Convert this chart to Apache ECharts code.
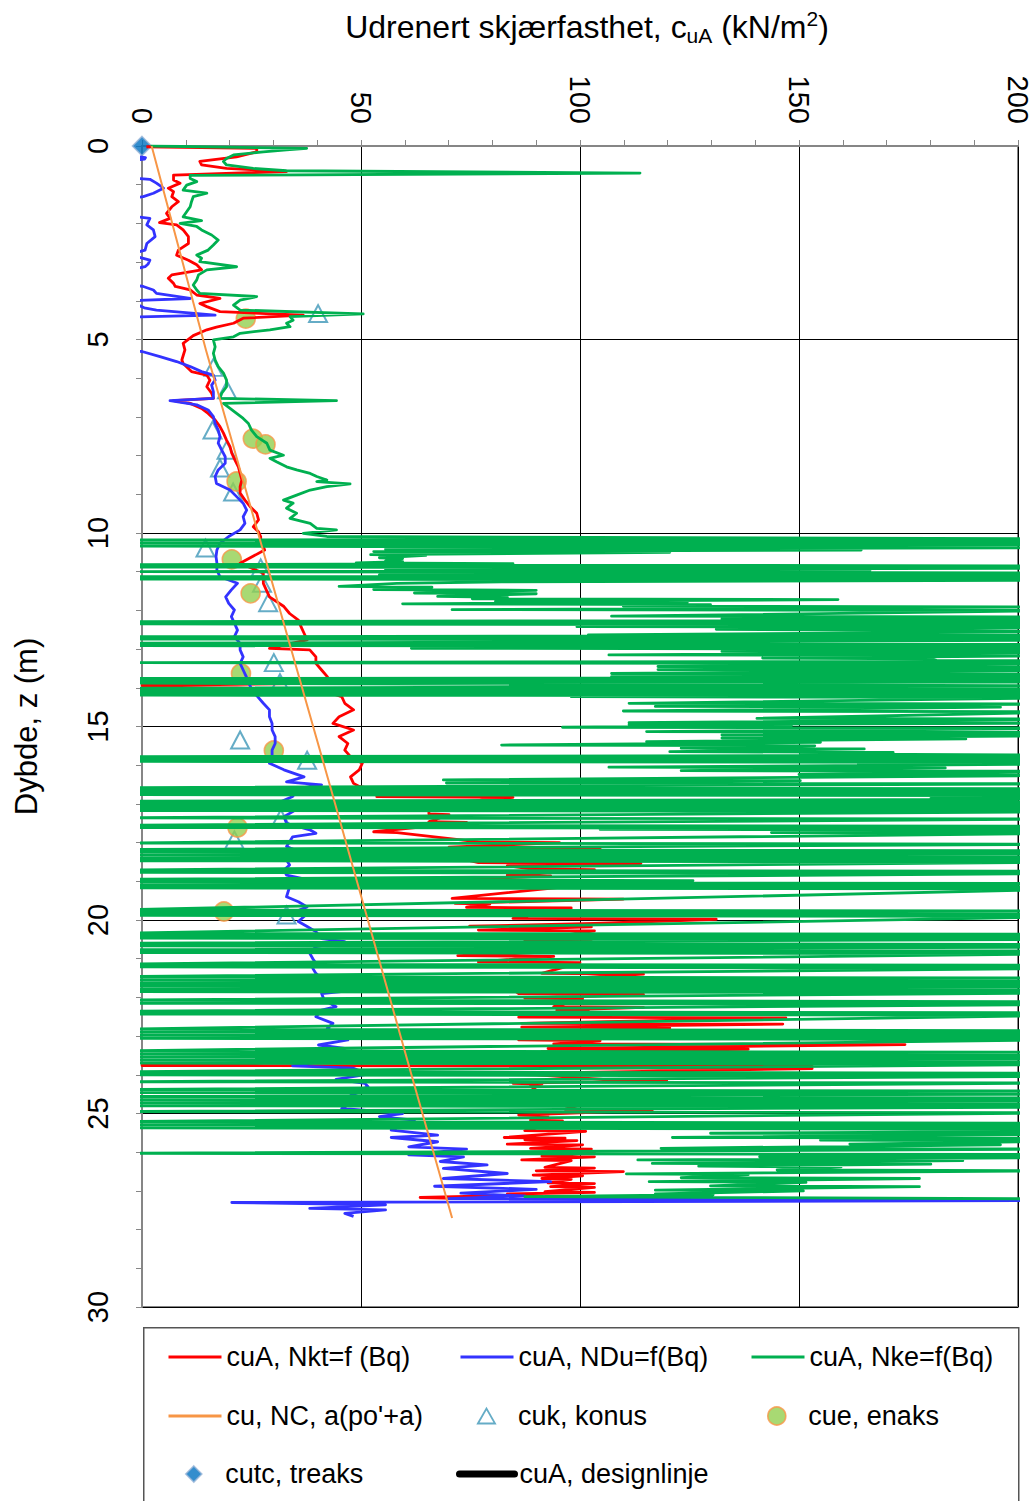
<!DOCTYPE html>
<html>
<head>
<meta charset="utf-8">
<script src="https://cdn.jsdelivr.net/npm/echarts@6/dist/echarts.min.js"></script>
<style>
  html, body { margin: 0; padding: 0; background: #fff; }
  #chart { width: 1034px; height: 1501px; }
</style>
</head>
<body>
<div id="chart"></div>
<script>
// every point is [cu (kN/m2), depth z (m)]; -5 / 215 = trace runs off the left / right edge
const nkt = [
  [1,0.02],[26.2,0.06],[26.2,0.15],[21.6,0.28],[13.2,0.4],[13.6,0.49],[19.3,0.58],[33,0.66],[7.2,0.75],[7.2,0.88],
  [8.7,0.96],[6,1.09],[7.2,1.18],[6.8,1.31],[8.3,1.44],[6.8,1.57],[5.6,1.74],[6.4,1.87],[4,1.98],[7.9,2.04],
  [9.4,2.17],[10.6,2.34],[10.6,2.52],[8.3,2.69],[7.9,2.82],[10.6,2.95],[12.5,3.07],[13.6,3.2],[6.8,3.33],[6,3.42],
  [7.2,3.55],[7.6,3.63],[11,3.72],[12.5,3.85],[17.8,3.94],[13.2,4.07],[14.8,4.15],[17.8,4.28],[36.8,4.37],[23.1,4.45],
  [20.9,4.58],[17,4.68],[14.8,4.75],[11.7,4.9],[9.4,5.1],[9.8,5.27],[9.1,5.53],[9.4,5.62],[11.3,5.83],[14.8,5.92],
  [15.5,6.05],[14.8,6.22],[15.9,6.39],[16.3,6.52],[7.2,6.58],[11,6.65],[13.6,6.78],[15.1,6.91],[16.7,7.08],[17.8,7.25],
  [18.6,7.42],[19.3,7.6],[20.1,7.77],[20.5,7.94],[21.2,8.11],[22,8.29],[22.4,8.46],[22.8,8.63],[22.4,8.8],[22.4,8.97],
  [23.5,9.15],[24.7,9.32],[26.2,9.49],[26.6,9.66],[25.4,9.84],[26.6,9.97],[27.1,10.1],[27.1,10.18],[28,10.44],[22.4,10.78],
  [27.7,11.04],[27.7,11.3],[29.1,11.65],[32.4,11.9],[33.7,12.08],[35.7,12.25],[36.3,12.42],[37,12.59],[37.7,12.76],[29.1,12.98],
  [38.3,13.02],[39.7,13.2],[39.7,13.37],[41,13.54],[42.3,13.71],[43,13.88],[0,13.94],[41,14.06],[45.6,14.23],[46.3,14.4],
  [48.3,14.57],[45,14.75],[43.6,14.92],[48.3,15.09],[45,15.26],[47,15.44],[46.3,15.61],[47.6,15.78],[50.3,15.95],[49.6,16.12],
  [47.6,16.3],[48.3,16.47],[49.6,16.55],[59,16.75],[53.6,16.81],[84.7,16.83],[60.9,17.07],[65.5,17.09],[65.5,17.26],[70.1,17.28],
  [65.5,17.46],[74.1,17.48],[52.9,17.72],[58.2,17.74],[76.8,17.98],[95.3,18],[70.1,18.12],[104.6,18.14],[56.2,18.32],[70.1,18.34],
  [76.8,18.52],[113.9,18.54],[83.4,18.6],[88.7,18.68],[103.3,18.7],[83.4,18.84],[93.3,18.86],[69.5,18.97],[109.9,18.99],[70.8,19.44],
  [109.9,19.46],[71.5,19.57],[79.4,19.59],[74.1,19.67],[98,19.69],[84.7,19.96],[131.1,19.98],[103.3,20.09],[74.8,20.16],[102.6,20.18],
  [76.8,20.26],[103.3,20.28],[87.4,20.54],[102.6,20.56],[100,20.69],[119.2,20.71],[72.1,20.92],[94,20.94],[76.8,21.08],[100,21.1],
  [91.3,21.38],[114.5,21.4],[88.7,21.57],[131.7,21.59],[68.8,21.77],[84.7,21.79],[86,21.9],[114.5,21.92],[87.4,22.02],[100.6,22.04],
  [94,22.24],[114.5,22.26],[94.7,22.33],[101.9,22.35],[86,22.51],[147,22.53],[86.7,22.67],[146.3,22.69],[86.7,22.77],[120.5,22.79],
  [98,22.94],[132.4,22.96],[86,23.1],[104.6,23.12],[94,23.2],[174.2,23.22],[92.7,23.32],[138.4,23.34],[91.3,23.4],[124.5,23.42],
  [0,23.76],[153,23.78],[96,23.82],[153,23.84],[76.8,23.98],[90,24],[105.3,24.12],[119.8,24.14],[84.7,24.22],[91.3,24.24],
  [88.7,24.29],[91.3,24.5],[101.9,24.52],[83.4,24.65],[103.3,24.67],[96.6,24.89],[116.5,24.91],[86,25.04],[92.7,25.06],[88.7,25.17],
  [96,25.19],[87.4,25.44],[101.3,25.46],[82.7,25.62],[96.6,25.64],[87.4,25.68],[99.3,25.7],[83.4,25.79],[100.6,25.81],[88.7,25.9],
  [102.6,25.92],[92.7,25.99],[103.3,26.01],[91.3,26.1],[103.3,26.12],[86.7,26.2],[98,26.22],[92,26.39],[103.3,26.41],[90,26.48],
  [109.9,26.5],[89.3,26.59],[100.6,26.61],[91.3,26.68],[98,26.7],[92.7,26.79],[103.3,26.81],[93.3,26.89],[103.3,26.91],[92,27.02],
  [103.3,27.04],[83.4,27.08],[91.3,27.1],[63.5,27.17],[71.5,27.19]
];

const ndu = [
  [-3,0.25],[0.8,0.3],[0.6,0.34],[-3,0.38],[-3,0.82],[1.8,0.86],[3.3,0.96],[4.9,1.09],[2.6,1.22],[0.3,1.31],
  [-3,1.35],[-3,1.8],[1.8,1.87],[1.1,2.04],[2.6,2.17],[3,2.34],[1.1,2.52],[0.7,2.69],[-3,2.8],[1.8,2.95],
  [1.4,3.05],[0.7,3.12],[-3,3.2],[-3,3.58],[0.3,3.63],[2.6,3.72],[3.3,3.81],[11,3.94],[-3,4],[0.5,4.18],
  [3.3,4.24],[16.7,4.37],[-3,4.42],[-3,5.28],[0,5.31],[4.1,5.44],[7.9,5.57],[11,5.7],[13.6,5.83],[16.3,5.92],
  [16.7,6.05],[15.9,6.18],[16.3,6.35],[16.3,6.52],[6.4,6.58],[12.5,6.69],[15.1,6.82],[16.3,6.99],[16.7,7.17],[17.4,7.34],
  [17.8,7.51],[17.4,7.68],[18.2,7.86],[19,8.03],[19,8.2],[17.4,8.37],[16.7,8.54],[17,8.72],[20.1,8.89],[21.6,9.06],
  [23.1,9.23],[23.9,9.41],[23.1,9.58],[23.5,9.75],[22.4,9.92],[19.8,10.09],[17.8,10.27],[17.1,10.44],[16.9,10.61],[17.1,10.78],
  [17.1,10.96],[17.8,11.13],[21.8,11.3],[20.4,11.47],[19.1,11.65],[19.8,11.82],[21.1,11.99],[20.4,12.16],[21.1,12.33],[21.8,12.51],
  [21.1,12.68],[22.4,12.85],[22.4,13.02],[23.1,13.2],[22.4,13.37],[23.1,13.54],[23.8,13.71],[24.4,13.88],[25.1,14.06],[26.4,14.23],
  [27.7,14.4],[29.1,14.57],[29.1,14.75],[29.7,14.92],[29.7,15.09],[30.4,15.26],[30.4,15.44],[29.7,15.61],[29.7,15.78],[29.1,15.95],
  [32.4,16.12],[37,16.3],[33,16.43],[41,16.51],[35.7,16.6],[34.4,16.81],[31,16.98],[35,17.16],[32.4,17.33],[33,17.5],
  [38.3,17.67],[39.7,17.76],[34.4,17.85],[33.7,17.98],[33,18.1],[37,18.28],[42.3,18.32],[33,18.45],[33.7,18.58],[32.4,18.71],
  [33,18.84],[38.3,18.97],[33.7,19.14],[33,19.4],[35.7,19.53],[37.7,19.66],[35,19.79],[37,19.91],[35.7,20.04],[37.7,20.17],
  [39.7,20.3],[41,20.48],[46.3,20.56],[39.7,20.69],[38.3,20.86],[39,21],[39.7,21.12],[39,21.25],[39.7,21.38],[41,21.51],
  [44.3,21.64],[51.6,21.78],[41,21.9],[41.6,22.07],[44.3,22.24],[41,22.33],[39.7,22.5],[43.6,22.67],[42.3,22.8],[44.3,22.93],
  [47,23.1],[40.3,23.23],[46.3,23.32],[42.3,23.45],[43,23.63],[34.4,23.77],[48.3,23.83],[51.6,23.98],[44.3,24.12],[50.9,24.22],
  [51.6,24.31],[47.6,24.48],[50.3,24.61],[47.6,24.74],[45.6,24.87],[59.5,25],[54.2,25.08],[62.2,25.17],[56.9,25.43],[67.5,25.56],
  [56.9,25.62],[67.5,25.73],[60.9,25.86],[74.1,25.92],[60.9,26.07],[73.4,26.12],[68.1,26.24],[78.8,26.33],[68.8,26.42],[83.4,26.55],
  [68.8,26.68],[93.3,26.76],[66.8,26.88],[90,26.96],[72.8,27.06],[87.4,27.13],[70,27.2],[205,27.25],[20.5,27.3],[55.6,27.36],
  [38.3,27.45],[55.6,27.49],[46.3,27.58],[48.3,27.66]
];

const nke = [
  [2,0],[37.6,0.06],[33,0.1],[27.7,0.15],[20.9,0.23],[19.3,0.32],[18.6,0.4],[19.3,0.49],[25.4,0.58],[33,0.64],
  [113.7,0.7],[11,0.76],[11,0.84],[12.5,0.92],[10.2,1.01],[9.4,1.14],[14.8,1.22],[11.7,1.31],[11.3,1.44],[11,1.57],
  [10.2,1.7],[9.4,1.83],[13.6,1.93],[8.7,2],[12.5,2.08],[13.6,2.17],[15.9,2.3],[17.4,2.43],[16.3,2.56],[15.1,2.69],
  [12.5,2.82],[13.6,2.9],[13.2,2.99],[21.6,3.12],[14.8,3.2],[12.9,3.33],[12.5,3.46],[11.7,3.59],[12.5,3.72],[13.2,3.81],
  [26.2,3.89],[22.4,3.98],[20.9,4.11],[22.4,4.24],[50.5,4.34],[33.8,4.41],[34.5,4.5],[33,4.58],[33.8,4.67],[29.2,4.75],
  [22.4,4.84],[20.9,4.93],[16.3,5.01],[16.7,5.19],[16.3,5.36],[16.7,5.53],[17.4,5.7],[18.6,5.87],[19.3,6.05],[19.3,6.22],
  [18.2,6.39],[17.8,6.52],[44.4,6.58],[18.6,6.65],[20.1,6.78],[21.6,6.91],[23.1,7.04],[24.3,7.17],[25,7.34],[26.2,7.51],
  [28.5,7.68],[29.2,7.86],[32.3,7.99],[29.2,8.07],[30.7,8.16],[33,8.29],[35.3,8.37],[38.4,8.46],[39.9,8.54],[42.2,8.63],
  [39.9,8.67],[47.5,8.73],[42.2,8.8],[38.4,8.89],[35.3,9.02],[32.3,9.15],[34.5,9.23],[33,9.36],[35.3,9.49],[33.8,9.62],
  [38.4,9.75],[39.9,9.88],[44.4,9.92],[36.8,10.01],[42.2,10.09],
  [215,10.15],[-5,10.18],[215,10.22],[-5,10.26],[215,10.3],[-5,10.34],[215,10.38],
  [55.6,10.42],[164.2,10.44],[52.9,10.48],[120.5,10.5],[52.2,10.56],[64.8,10.58],[54.2,10.64],[59.5,10.66],[55.6,10.72],[59.5,10.74],
  [48.9,10.77],[84.7,10.79],[-5,10.82],[215,10.85],[-5,10.88],[215,10.91],[55.6,10.95],[166.2,10.97],[-5,11],[215,11.03],
  [54.2,11.08],[215,11.1],[-5,11.13],[215,11.16],[-5,11.19],[215,11.22],[82.1,11.26],[58.2,11.3],[45,11.38],[66.2,11.4],
  [52.9,11.46],[90,11.48],[62.2,11.55],[90,11.57],[67.5,11.64],[83.4,11.66],[75.4,11.7],[158.9,11.72],[80.7,11.77],[124.5,11.79],
  [59.5,11.83],[129.8,11.85],[109.9,11.89],[215,11.91],[70.8,11.98],[215,12],[107.2,12.15],[215,12.17],[132.4,12.22],[215,12.25],
  [-5,12.29],[215,12.32],[-5,12.35],[215,12.38],[99.3,12.42],[215,12.44],[131.1,12.49],[159.6,12.51],[215,12.55],[101.9,12.63],
  [215,12.65],[-5,12.68],[215,12.71],[-5,12.74],[215,12.77],[-5,12.85],[215,12.88],[-5,12.91],[215,12.93],[61.5,12.98],
  [215,13],[132.4,13.06],[215,13.08],[106.6,13.15],[215,13.17],[141.7,13.23],[180.1,13.25],[181.4,13.29],[215,13.31],[-5,13.35],
  [215,13.38],[117.8,13.45],[215,13.47],[117.8,13.53],[215,13.55],[107.2,13.63],[215,13.65],[107.2,13.71],[215,13.73],[-5,13.76],
  [215,13.79],[-5,13.82],[215,13.85],[-5,13.88],[215,13.95],[-5,14.01],[215,14.04],[-5,14.07],[215,14.1],[-5,14.13],
  [215,14.16],[-5,14.19],[215,14.21],[98,14.23],[215,14.25],[111.2,14.4],[215,14.42],[117.2,14.48],[196,14.5],[109.9,14.6],
  [215,14.62],[140.4,14.79],[215,14.81],[111.2,14.9],[215,14.91],[111.2,14.95],[148.3,14.97],[96,15.02],[215,15.04],[115.2,15.13],
  [215,15.15],[132.4,15.22],[215,15.24],[132.4,15.3],[188.1,15.32],[115.2,15.39],[154.9,15.41],[82.1,15.48],[153.6,15.5],[123.1,15.56],
  [164.9,15.58],[120.5,15.65],[171.5,15.67],[150.3,15.71],[215,15.74],[-5,15.78],[215,15.81],[-5,15.84],[215,15.87],[-5,15.9],
  [215,15.93],[163.5,15.95],[215,15.97],[106.6,16.05],[183.4,16.07],[123.1,16.14],[215,16.16],[150,16.24],[215,16.26],[68.8,16.38],
  [150.3,16.4],[69.5,16.46],[215,16.48],[-5,16.58],[215,16.61],[-5,16.64],[215,16.67],[-5,16.7],[215,16.73],[-5,16.76],
  [215,16.79],[180.1,16.86],[215,16.88],[-5,16.93],[215,16.96],[-5,16.99],[215,17.02],[-5,17.05],[215,17.08],[-5,17.11],
  [215,17.14],[-5,17.17],[215,17.2],[-5,17.36],[215,17.39],[-5,17.55],[215,17.58],[-5,17.61],[215,17.63],[104.6,17.66],
  [215,17.68],[143.7,17.74],[215,17.76],[-5,18.01],[215,18.04],[-5,18.18],[215,18.21],[-5,18.25],[215,18.29],[-5,18.33],
  [215,18.37],[-5,18.41],[215,18.44],[-5,18.47],[215,18.5],[-5,18.71],[215,18.74],[-5,18.77],[215,18.8],[-5,18.95],
  [125.8,18.98],[-5,19.02],[215,19.06],[-5,19.1],[215,19.14],[-5,19.17],[215,19.2],[-5,19.74],[215,19.77],[-5,19.81],
  [215,19.85],[-5,19.88],[215,19.91],[-5,20.34],[215,20.37],[-5,20.41],[215,20.44],[-5,20.47],[215,20.5],[-5,20.6],
  [215,20.63],[-5,20.67],[215,20.7],[-5,20.77],[215,20.8],[-5,20.84],[215,20.87],[-5,21.14],[215,21.17],[-5,21.21],
  [215,21.25],[-5,21.46],[215,21.5],[-5,21.54],[215,21.58],[-5,21.62],[215,21.66],[-5,21.7],[215,21.74],[-5,21.78],
  [215,21.82],[-5,21.85],[215,21.88],[-5,22.07],[215,22.11],[-5,22.15],[215,22.18],[-5,22.36],[215,22.4],[-5,22.43],
  [215,22.46],[-5,22.82],[215,22.86],[-5,22.9],[215,22.94],[-5,22.98],[215,23.02],[-5,23.06],[215,23.09],[-5,23.38],
  [215,23.42],[-5,23.46],[215,23.5],[-5,23.54],[215,23.58],[-5,23.62],[215,23.66],[-5,23.7],[215,23.73],[-5,23.92],
  [215,23.96],[-5,24],[215,24.04],[-5,24.18],[215,24.21],[-5,24.38],[215,24.42],[-5,24.46],[215,24.5],[-5,24.56],
  [215,24.6],[-5,24.64],[215,24.68],[-5,24.72],[215,24.76],[-5,24.8],[215,24.83],[-5,24.95],[215,24.98],[-5,25.21],
  [215,25.25],[-5,25.29],[215,25.33],[-5,25.37],[215,25.41],[180.8,25.44],[215,25.46],[129.8,25.51],[215,25.53],[121.1,25.62],
  [215,25.64],[154.9,25.69],[215,25.71],[161.6,25.79],[196,25.81],[118.5,25.9],[215,25.92],[-5,26.03],[215,26.06],[141,26.12],
  [215,26.14],[113.2,26.2],[187.4,26.22],[116.5,26.29],[180.1,26.31],[127.1,26.36],[159.6,26.38],[145,26.46],[215,26.48],[110.6,26.56],
  [138.4,26.58],[123.1,26.66],[177.5,26.68],[115.8,26.76],[151.6,26.78],[129.8,26.87],[177.5,26.89],[117.2,26.98],[151,27],[117.2,27.08],
  [130.4,27.1],[87.4,27.15],[215,27.21]
];

const ncLine = [[2.2,0],[14.6,5.27],[26.5,10],[43.2,16.64],[61,23.79],[70.8,27.7]];

const konus = [
  [40.2,4.33],[16.3,5.72],[19.4,6.3],[16.1,7.34],[19.3,7.86],[17.8,8.32],[20.8,8.94],[14.5,10.39],[27.1,10.9],
  [27.4,11.3],[28.8,11.8],[30.1,13.35],[31.5,13.87],[22.4,15.35],[37.7,15.87],[31.7,17.37],[21.1,17.93],[33,19.87]
];

const enaks = [
  [23.7,4.46],[25.3,7.56],[28.2,7.71],[21.6,8.67],[20.5,10.68],[24.8,11.56],[22.6,13.63],[30.1,15.62],[21.8,17.61],[18.7,19.78]
];

const treaks = [[0,0]];

const FONT = '"Liberation Sans", Arial, sans-serif';
const AXIS_GREY = '#868686';
const KONUS = '#3f97b8';
const NO_DOT = { color: 'rgba(0,0,0,0)', borderColor: 'rgba(0,0,0,0)', borderWidth: 0 };

const chart = echarts.init(document.getElementById('chart'), null, { renderer: 'svg' });

function curve(name, data, color, width) {
  return {
    name, type: 'line', data,
    symbol: 'none', showSymbol: false, clip: true,
    lineStyle: { color, width, join: 'round' },
    itemStyle: { color },
    emphasis: { disabled: true }
  };
}

// one legend per entry so the three columns line up like the original
function legendEntry(item, left, rowMid, extra) {
  return Object.assign({
    data: [item], left, top: rowMid - 16, padding: 0,
    itemWidth: 53, itemHeight: 14, selectedMode: false, z: 10,
    lineStyle: { width: 3 },
    itemStyle: NO_DOT,
    textStyle: { fontFamily: FONT, fontSize: 27, color: '#000', lineHeight: 32 }
  }, extra || {});
}

const col = [167, 459, 750];
const row = [1357, 1416, 1474];

const option = {
  animation: false,
  backgroundColor: '#fff',
  grid: {
    left: 142, top: 146, right: 16, bottom: 194,
    show: true, borderColor: AXIS_GREY, borderWidth: 2,
    outerBoundsMode: 'none'
  },
  xAxis: {
    type: 'value', position: 'top', min: 0, max: 200, interval: 50,
    name: '{t|Udrenert skjærfasthet, c}{s|uA}{t| (kN/m}{p|2}{t|)}',
    nameLocation: 'middle', nameGap: 100,
    nameTextStyle: {
      padding: [0, 0, 0, 14],
      rich: {
        t: { fontFamily: FONT, fontSize: 32, color: '#000', lineHeight: 38 },
        s: { fontFamily: FONT, fontSize: 21, color: '#000', lineHeight: 18, verticalAlign: 'bottom' },
        p: { fontFamily: FONT, fontSize: 21, color: '#000', lineHeight: 20, verticalAlign: 'top' }
      }
    },
    axisLine: { show: true, onZero: false, lineStyle: { color: AXIS_GREY, width: 2 } },
    axisTick: { show: true, inside: false, length: 6, lineStyle: { color: AXIS_GREY } },
    minorTick: { show: true, splitNumber: 5, length: 6, lineStyle: { color: AXIS_GREY } },
    minorSplitLine: { show: false },
    axisLabel: { rotate: 90, margin: 22, fontFamily: FONT, fontSize: 29, color: '#000' },
    splitLine: { show: true, lineStyle: { color: '#000', width: 1 } }
  },
  yAxis: {
    type: 'value', inverse: true, min: 0, max: 30, interval: 5,
    name: 'Dybde, z (m)', nameLocation: 'middle', nameGap: 100, nameRotate: 90,
    nameTextStyle: { fontFamily: FONT, fontSize: 31, color: '#000' },
    axisLine: { show: true, onZero: false, lineStyle: { color: AXIS_GREY, width: 2 } },
    axisTick: { show: true, inside: false, length: 6, lineStyle: { color: AXIS_GREY } },
    minorTick: { show: true, splitNumber: 5, length: 6, lineStyle: { color: AXIS_GREY } },
    minorSplitLine: { show: false },
    axisLabel: { rotate: 90, margin: 30, fontFamily: FONT, fontSize: 29, color: '#000' },
    splitLine: { show: true, lineStyle: { color: '#000', width: 1 } }
  },
  legend: [
    legendEntry('cuA, Nkt=f (Bq)', col[0], row[0]),
    legendEntry('cuA, NDu=f(Bq)', col[1], row[0]),
    legendEntry('cuA, Nke=f(Bq)', col[2], row[0]),
    legendEntry("cu, NC, a(po'+a)", col[0], row[1]),
    legendEntry({ name: 'cuk, konus', icon: 'path://M0,14L8,0L16,14Z' }, 477, row[1],
      { itemHeight: 15, itemStyle: { color: 'rgba(255,255,255,0)', borderColor: KONUS, borderWidth: 1.8 } }),
    legendEntry({ name: 'cue, enaks', icon: 'circle' }, 767, row[1],
      { itemHeight: 18, itemStyle: { color: '#92d050', borderColor: '#f79646', borderWidth: 1.6 } }),
    legendEntry({ name: 'cutc, treaks', icon: 'path://M0,-1L1,0L0,1L-1,0Z' }, 185, row[2],
      { itemHeight: 16, itemStyle: { color: '#0070c0', borderColor: '#95b3d7', borderWidth: 1.6 } }),
    legendEntry('cuA, designlinje', 456, row[2], { itemWidth: 55, lineStyle: { width: 7, cap: 'round' } })
  ],
  graphic: [{
    type: 'rect', left: 143, top: 1327, z: 0, silent: true,
    shape: { width: 875, height: 200 },
    style: { fill: '#fff', stroke: '#555', lineWidth: 1.5 }
  }],
  series: [
    curve('cuA, Nkt=f (Bq)', nkt, '#ff0000', 2.8),
    curve('cuA, NDu=f(Bq)', ndu, '#3333ff', 2.8),
    curve('cuA, Nke=f(Bq)', nke, '#00b050', 2.8),
    curve("cu, NC, a(po'+a)", ncLine, '#f79646', 2),
    {
      name: 'cuk, konus', type: 'scatter', data: konus,
      symbol: 'triangle', symbolSize: [18, 17],
      itemStyle: { color: 'rgba(255,255,255,0)', borderColor: KONUS, borderWidth: 2 }
    },
    {
      name: 'cue, enaks', type: 'scatter', data: enaks,
      symbol: 'circle', symbolSize: 19,
      itemStyle: { color: '#92d050', borderColor: '#f79646', borderWidth: 1.6 }
    },
    {
      name: 'cutc, treaks', type: 'scatter', data: treaks,
      symbol: 'diamond', symbolSize: 19, clip: false,
      itemStyle: { color: '#0070c0', borderColor: '#95b3d7', borderWidth: 1.6 }
    },
    curve('cuA, designlinje', [], '#000', 6)
  ]
};

chart.setOption(option);
</script>
</body>
</html>
